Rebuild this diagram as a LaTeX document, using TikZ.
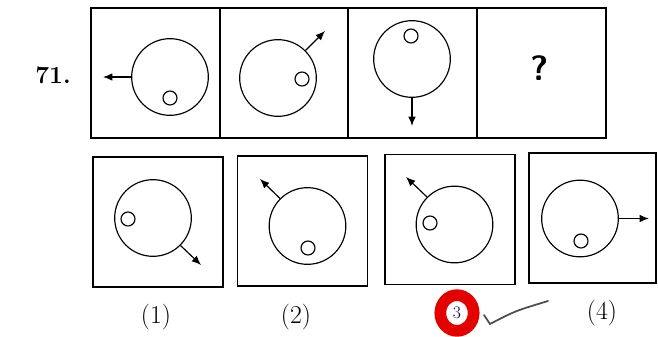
\documentclass[tikz,border=0pt]{standalone}
\usetikzlibrary{arrows.meta,shapes.geometric}

\begin{document}
\begin{tikzpicture}[x=0.03cm, y=-0.03cm, >={Latex[length=8pt,width=6.5pt]},
  ring/.style={circle, draw, line width=1pt, minimum size=2.3cm, inner sep=0pt},
  dot/.style={circle, draw, line width=1pt, minimum size=0.42cm, inner sep=0pt},
  panel/.style={draw, line width=1.2pt, minimum width=3.87cm, minimum height=3.9cm, inner sep=0pt},
  choice/.style={draw, line width=1.3pt, minimum width=3.9cm, minimum height=3.9cm, inner sep=0pt},
  tag/.style={font=\fontsize{22}{22}\selectfont}]
  \useasboundingbox (0,0) rectangle (658,337);

  % --- fila superior: la serie ---
  \node[font=\fontsize{21}{21}\selectfont\bfseries] (num) at (53,75) {71.};
  \node[panel] (p1) at (155.5,73) {};
  \node[panel] (p2) at (284,73) {};
  \node[panel] (p3) at (412.5,73) {};
  \node[panel] (p4) at (541.5,73) {};

  \node[ring] (r1) at (170,77) {};
  \node[dot] (d1) at (170,98) {};
  \coordinate (t1) at (103,77);
  \draw[->, line width=1pt] (r1.west) -- (t1);

  \node[ring] (r2) at (278,78) {};
  \node[dot] (d2) at (302,79) {};
  \coordinate (t2) at (325,31);
  \draw[->, line width=1pt] (r2.45) -- (t2);

  \node[ring] (r3) at (412,59) {};
  \node[dot] (d3) at (411,36) {};
  \coordinate (t3) at (412,126);
  \draw[->, line width=1pt] (r3.south) -- (t3);

  \node[font=\fontsize{30}{30}\selectfont\sffamily\bfseries] (q) at (540,68) {?};

  % --- fila inferior: las opciones ---
  \node[choice] (b1) at (158,222) {};
  \node[choice] (b2) at (302.5,221) {};
  \node[choice] (b3) at (450,219.5) {};
  \node[choice, minimum width=3.81cm] (b4) at (592.5,218) {};

  \node[ring] (s1) at (153,218) {};
  \node[dot] (e1) at (128,219) {};
  \coordinate (u1) at (201,265);
  \draw[->, line width=1pt] (s1.-45) -- (u1);

  \node[ring] (s2) at (307.5,226) {};
  \node[dot] (e2) at (308,248) {};
  \coordinate (u2) at (260,179);
  \draw[->, line width=1pt] (s2.135) -- (u2);

  \node[ring] (s3) at (454.5,224.5) {};
  \node[dot] (e3) at (430,223) {};
  \coordinate (u3) at (406,177);
  \draw[->, line width=1pt] (s3.135) -- (u3);

  \node[ring] (s4) at (580,218.5) {};
  \node[dot] (e4) at (581,241) {};
  \coordinate (u4) at (649,218.5);
  \draw[->, line width=1pt] (s4.east) -- (u4);

  \node[tag] (l1) at (156,317) {(1)};
  \node[tag] (l2) at (296,317) {(2)};
  \node[tag] (l4) at (602,313) {(4)};

  % marca roja de la respuesta
  \node[ellipse, draw=red!90!black, line width=10pt, fill=white, minimum width=1.0cm,
        minimum height=1.07cm, inner sep=0pt, font=\fontsize{15}{15}\selectfont,
        text=blue!35!black] (ans) at (457,313) {3};
  \coordinate (k1) at (484,315);
  \coordinate (k2) at (490,324);
  \coordinate (k3) at (548,301);
  \draw[line width=1.5pt, black!70, line cap=round] (k1) -- (k2) .. controls (515,311) .. (k3);
\end{tikzpicture}
\end{document}
